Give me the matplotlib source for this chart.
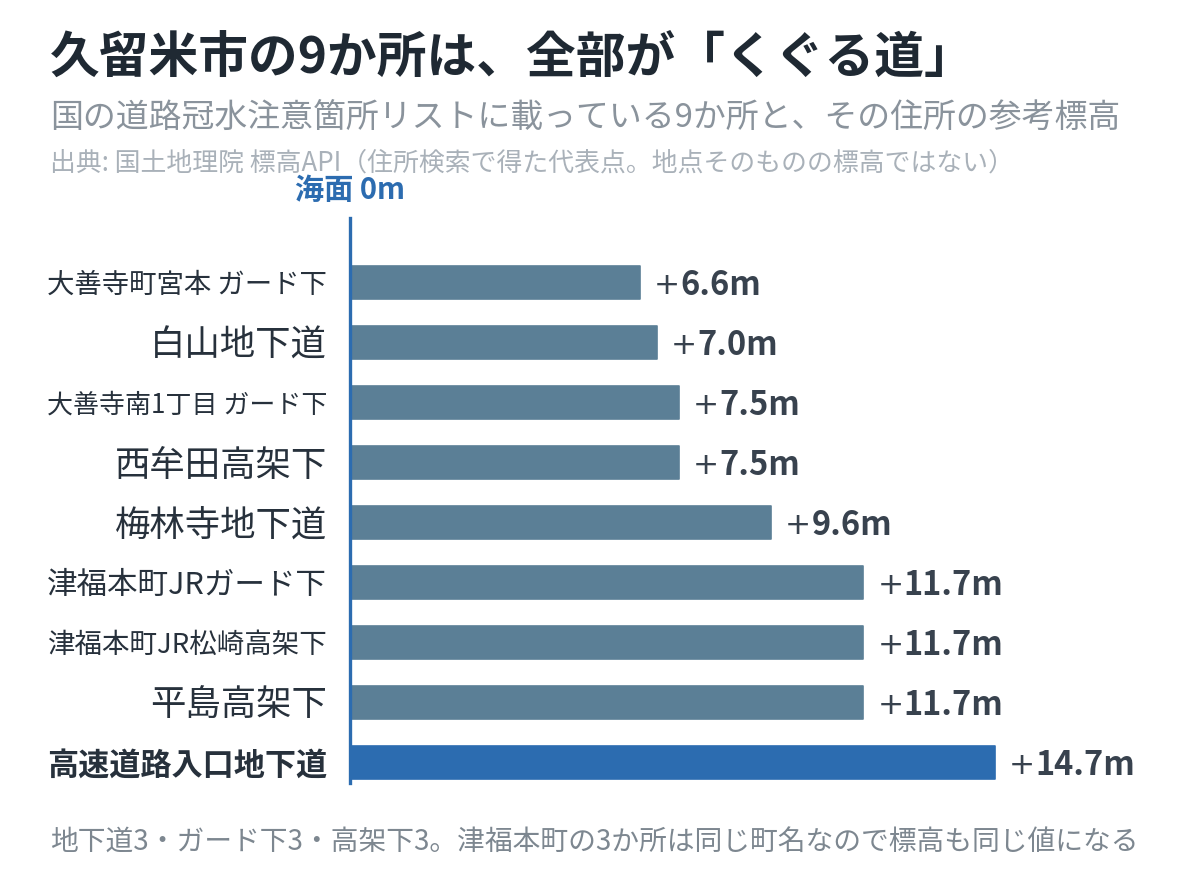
import matplotlib
matplotlib.use("Agg")
import matplotlib.pyplot as plt
import matplotlib.transforms as mtransforms

# --- Fonts ---
plt.rcParams['font.family'] = ['Noto Sans CJK JP', 'DejaVu Sans']

# --- Data ---
places = [
    "大善寺町宮本 ガード下",
    "白山地下道",
    "大善寺南1丁目 ガード下",
    "西牟田高架下",
    "梅林寺地下道",
    "津福本町JRガード下",
    "津福本町JR松崎高架下",
    "平島高架下",
    "高速道路入口地下道",
]
elevation_m = [6.6, 7.0, 7.5, 7.5, 9.6, 11.7, 11.7, 11.7, 14.7]
highlight = "高速道路入口地下道"

title = "久留米市の9か所は、全部が「くぐる道」"
subtitle = "国の道路冠水注意箇所リストに載っている9か所と、その住所の参考標高"
source = "出典: 国土地理院 標高API（住所検索で得た代表点。地点そのものの標高ではない）"
footnote = "地下道3・ガード下3・高架下3。津福本町の3か所は同じ町名なので標高も同じ値になる"
sea_label = "海面 0m"

# --- Colours ---
BAR = "#5b7f96"
BAR_HI = "#2c6cb0"
TEXT = "#27313c"
VALUE = "#38424e"

fig = plt.figure(figsize=(12, 8.88), dpi=100)
ax = fig.add_axes([350 / 1200, 1 - 783 / 888, 820 / 1200, 565 / 888])

ypos = list(range(len(places)))
colors = [BAR_HI if p == highlight else BAR for p in places]
ax.barh(ypos, elevation_m, height=0.55, color=colors, edgecolor=colors,
        linewidth=1.2, joinstyle='round', zorder=2)

ax.set_xlim(0, 820 / 43.88)
ax.set_ylim(8 + 21 / 60, -64 / 60)

# value labels: thin "+" then bold number
for y, v in zip(ypos, elevation_m):
    plus = ax.annotate("+", xy=(v, y), xytext=(10, -2.5), textcoords='offset points',
                       ha='left', va='center', fontsize=22.5, color=VALUE,
                       family='DejaVu Sans')
    ax.annotate(f"{v:.1f}m", xy=(1, y), xycoords=(plus, 'data'), xytext=(0.3, -2.5),
                textcoords='offset points', ha='left', va='center',
                fontsize=23.5, fontweight='bold', color=VALUE)

# y labels
ax.set_yticks(ypos)
ax.set_yticklabels(places, fontsize=25.5, color=TEXT)
ax.tick_params(axis='y', length=0, pad=16.5)
ax.tick_params(axis='x', bottom=False, labelbottom=False)
for lbl in ax.get_yticklabels():
    if lbl.get_text() == highlight:
        lbl.set_fontweight('bold')

for side in ['top', 'right', 'bottom']:
    ax.spines[side].set_visible(False)
ax.spines['left'].set_color(BAR_HI)
ax.spines['left'].set_linewidth(2.4)
ax.spines['left'].set_zorder(3)

# shrink long labels so they fit the label column
fig.canvas.draw()
renderer = fig.canvas.get_renderer()
max_w = 280
for lbl in ax.get_yticklabels():
    w = lbl.get_window_extent(renderer).width
    if w > max_w:
        lbl.set_fontsize(lbl.get_fontsize() * max_w / w)

# sea level marker
trans = mtransforms.blended_transform_factory(ax.transData, fig.transFigure)
ax.text(0, 1 - 190 / 888, sea_label, transform=trans, ha='center', va='center',
        fontsize=21, fontweight='bold', color=BAR_HI, clip_on=False)

# titles
fig.text(50 / 1200, 1 - 58 / 888, title, fontsize=35.8, fontweight='bold',
         color="#1f2933", ha='left', va='center')
fig.text(50 / 1200, 1 - 118 / 888, subtitle, fontsize=23.7,
         color="#8a939c", ha='left', va='center')
fig.text(50 / 1200, 1 - 163 / 888, source, fontsize=18.6,
         color="#a9b1b9", ha='left', va='center')
fig.text(50 / 1200, 1 - 843 / 888, footnote, fontsize=20,
         color="#7d8790", ha='left', va='center')

fig.savefig("out.png", dpi=100, facecolor='white')
